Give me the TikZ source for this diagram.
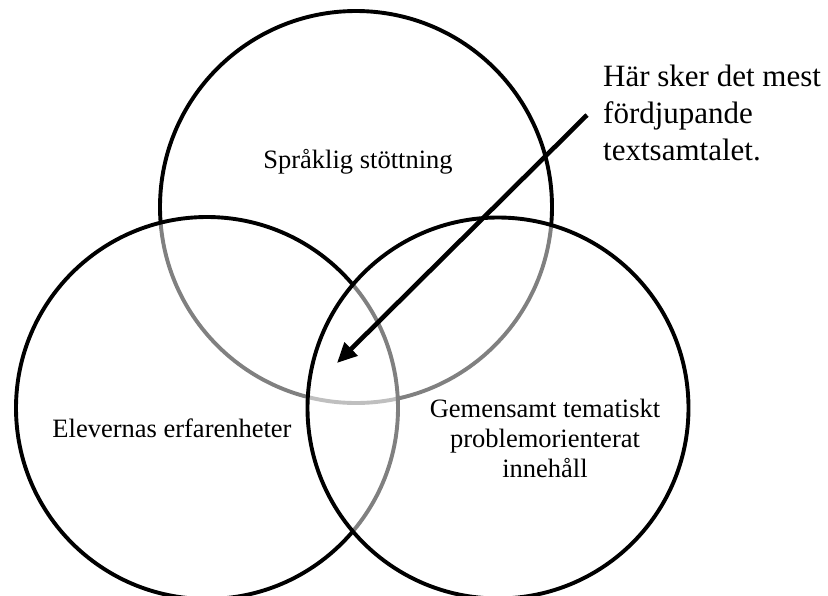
\documentclass[tikz,border=0pt]{standalone}
\usepackage{fontspec}
\setmainfont{Liberation Serif}
\usetikzlibrary{arrows.meta}
\begin{document}
\begin{tikzpicture}[x=1pt,y=-1pt,
  ring/.style={circle,draw=black,line width=3.9pt,inner sep=0pt,outer sep=0pt},
  veil/.style={fill=white,fill opacity=0.5},
  label/.style={font=\fontsize{26.5}{30}\selectfont,inner sep=0pt,align=center},
  callout/.style={font=\fontsize{31}{37}\selectfont,inner sep=0pt,align=left},
  pointer/.style={line width=4.6pt,-{Triangle[length=20pt,width=18pt]}}]
\useasboundingbox (0,0) rectangle (828,595);
\node[ring,minimum size=392pt] (top) at (356,207) {};
\node[ring,veil,minimum size=382pt] (left) at (207,408) {};
\node[ring,veil,minimum size=381pt] (right) at (498,408) {};
\node[label,anchor=base] (ltop) at (358,168) {Språklig stöttning};
\node[label,anchor=base] (lleft) at (172,437) {Elevernas erfarenheter};
\node[label,anchor=base] (lright) at (545,477) {Gemensamt tematiskt\\problemorienterat\\innehåll};
\node[callout,anchor=base west] (note) at (603,160) {Här sker det mest\\fördjupande\\textsamtalet.};
\coordinate (from) at (587,115);
\coordinate (to) at (337,363);
\draw[pointer] (from) -- (to);
\end{tikzpicture}
\end{document}
